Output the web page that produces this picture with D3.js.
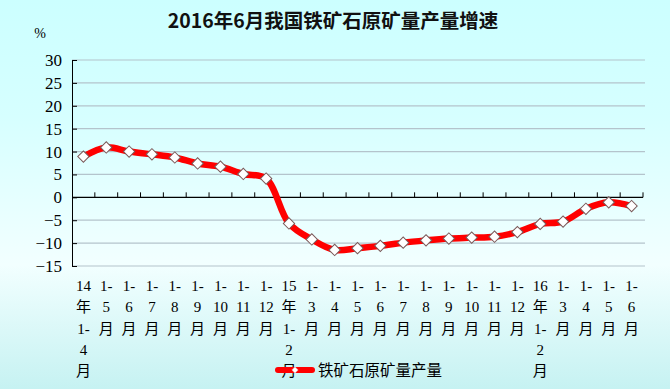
<!DOCTYPE html>
<html>
<head>
<meta charset="utf-8">
<script src="https://cdn.jsdelivr.net/npm/d3@7"></script>
<style>
html,body{margin:0;padding:0;}
body{width:670px;height:389px;overflow:hidden;}
</style>
</head>
<body>
<svg id="chart" width="670" height="389"></svg>
<script>
const title = "2016年6月我国铁矿石原矿量产量增速";
const seriesName = "铁矿石原矿量产量";
const categories = [
  "14年1-4月","1-5月","1-6月","1-7月","1-8月","1-9月","1-10月","1-11月","1-12月",
  "15年1-2月","1-3月","1-4月","1-5月","1-6月","1-7月","1-8月","1-9月","1-10月","1-11月","1-12月",
  "16年1-2月","1-3月","1-4月","1-5月","1-6月"
];
const values = [
  8.9, 10.9, 10.0, 9.4, 8.7, 7.4, 6.7, 5.1, 4.1,
  -5.7, -9.2, -11.5, -11.1, -10.6, -9.9, -9.4, -9.0, -8.8, -8.6, -7.6,
  -5.8, -5.3, -2.5, -1.1, -1.9
];
const yTicks = [30, 25, 20, 15, 10, 5, 0, -5, -10, -15];

(function () {
const svg = d3.select("#chart");
const W = 670, H = 389;
const pL = 72, pR = 643, pT = 60, pB = 266;

// background gradient
const defs = svg.append("defs");
const g = defs.append("linearGradient").attr("id","bg").attr("x1",0).attr("y1",0).attr("x2",0).attr("y2",1);
g.append("stop").attr("offset","0%").attr("stop-color","#ccffff");
g.append("stop").attr("offset","30%").attr("stop-color","#d6ffff");
g.append("stop").attr("offset","68%").attr("stop-color","#f2ffff");
g.append("stop").attr("offset","100%").attr("stop-color","#c6f2f2");
svg.append("rect").attr("width",W).attr("height",H).attr("fill","url(#bg)");

const x = d3.scaleBand().domain(d3.range(categories.length)).range([pL, pR]).padding(0);
const y = d3.scaleLinear().domain([-15, 30]).range([pB, pT]);
const cx = i => x(i) + x.bandwidth()/2;

// gridlines
svg.append("g").selectAll("line").data(yTicks.filter(t => t !== 0)).join("line")
  .attr("x1", pL).attr("x2", pR + 2)
  .attr("y1", d => y(d)).attr("y2", d => y(d))
  .attr("stroke", "#b4c4cc").attr("stroke-width", 1.2);

// y axis
const yAxis = d3.axisLeft(y).tickValues(yTicks).tickSize(-5).tickPadding(10).tickFormat(d3.format("d"));
const ya = svg.append("g").attr("transform", `translate(${pL},0)`).call(yAxis);
ya.select(".domain").attr("stroke", "#000");
ya.selectAll(".tick line").attr("stroke", "#000");
ya.selectAll(".tick text")
  .attr("font-family", "'Liberation Serif', 'DejaVu Serif', serif")
  .attr("font-size", "17px").attr("fill", "#000");

// zero axis with ticks at category boundaries
const bounds = categories.map((c, i) => x(i)).concat([pR]);
svg.append("line").attr("x1", pL).attr("x2", pR).attr("y1", y(0)).attr("y2", y(0))
  .attr("stroke", "#000").attr("stroke-width", 1.3);
svg.append("g").selectAll("line").data(bounds.slice(1)).join("line")
  .attr("x1", d => d).attr("x2", d => d)
  .attr("y1", y(0)).attr("y2", y(0) - 5)
  .attr("stroke", "#000").attr("stroke-width", 1);

// x labels (wrapped)
const lineY = [291, 312, 334, 355, 376];
const xl = svg.append("g")
  .attr("font-family", "'Liberation Serif', 'Noto Sans CJK SC', serif")
  .attr("font-size", "15px").attr("fill", "#000").attr("text-anchor", "middle");
categories.forEach((c, ci) => {
  const parts = c.match(/\d+-|\d+|\D/g);
  parts.forEach((p, i) => {
    xl.append("text").attr("x", cx(ci)).attr("y", lineY[i]).text(p);
  });
});

// line
const line = d3.line().x((d, i) => cx(i)).y(d => y(d)).curve(d3.curveCatmullRom.alpha(0.5));
svg.append("path").datum(values).attr("d", line)
  .attr("fill", "none").attr("stroke", "#ff0000").attr("stroke-width", 6.5)
  .attr("stroke-linejoin", "round").attr("stroke-linecap", "round");

// markers
svg.append("g").selectAll("path").data(values).join("path")
  .attr("transform", (d, i) => `translate(${cx(i)},${y(d)}) rotate(45)`)
  .attr("d", d3.symbol().type(d3.symbolSquare).size(64))
  .attr("fill", "#fff").attr("stroke", "#7a5a5a").attr("stroke-width", 1);

// title
svg.append("text").attr("x", 333).attr("y", 28).attr("text-anchor", "middle")
  .attr("font-family", "'Noto Sans CJK SC', sans-serif").attr("font-weight", "bold")
  .attr("font-size", "19.5px").attr("fill", "#111").text(title);

// % unit
svg.append("text").attr("x", 40).attr("y", 38).attr("text-anchor", "middle")
  .attr("font-family", "'Liberation Serif', serif").attr("font-size", "14px").attr("fill", "#000").text("%");

// legend
const lg = svg.append("g");
lg.append("line").attr("x1", 278).attr("x2", 312).attr("y1", 370).attr("y2", 370)
  .attr("stroke", "#ff0000").attr("stroke-width", 6).attr("stroke-linecap", "round");
lg.append("path").attr("transform", "translate(295,370) rotate(45)")
  .attr("d", d3.symbol().type(d3.symbolSquare).size(20))
  .attr("fill", "#fff").attr("stroke", "#e0a0a0").attr("stroke-width", 0.5);
lg.append("text").attr("x", 318).attr("y", 376)
  .attr("font-family", "'Noto Sans CJK SC', sans-serif").attr("font-size", "15.5px").attr("fill", "#000")
  .text(seriesName);
})();
</script>
</body>
</html>
